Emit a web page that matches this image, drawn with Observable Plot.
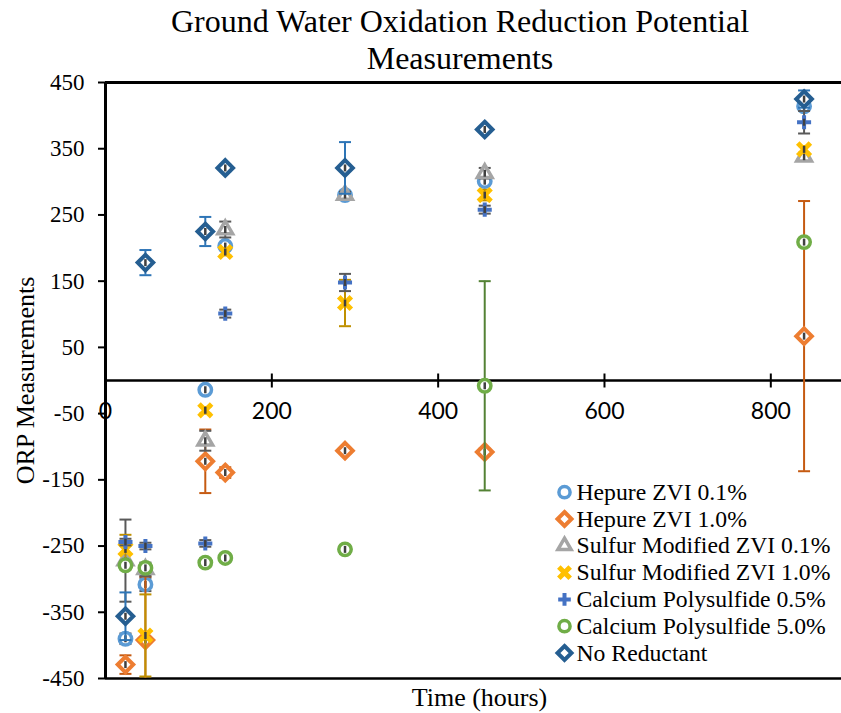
<!DOCTYPE html>
<html>
<head>
<meta charset="utf-8">
<script src="https://cdn.jsdelivr.net/npm/d3@7"></script>
<script src="https://cdn.jsdelivr.net/npm/@observablehq/plot@0.6"></script>
<style>
  html, body { margin: 0; padding: 0; background: #fff; }
  #wrap { position: relative; width: 841px; height: 713px; overflow: hidden; }
  #title { position: absolute; left: 460px; top: 3px; transform: translateX(-50%);
    font-family: "Liberation Serif", "Times New Roman", serif; font-size: 32px; line-height: 37px;
    text-align: center; white-space: nowrap; color: #000; }
  #chart { position: absolute; left: 0; top: 0; }
</style>
</head>
<body>
<div id="wrap">
  <div id="chart"></div>
  <div id="title">Ground Water Oxidation Reduction Potential<br>Measurements</div>
</div>
<script>
// ---- data ----
const times = [24, 48, 120, 144, 288, 456, 840];
const seriesNames = ["Hepure ZVI 0.1%", "Hepure ZVI 1.0%", "Sulfur Modified ZVI 0.1%", "Sulfur Modified ZVI 1.0%", "Calcium Polysulfide 0.5%", "Calcium Polysulfide 5.0%", "No Reductant"];
const hepure01 = [-390, -308, -14, 203, 280, 301, 414];
const hepure01Err = [8, 10, 5, 5, 5, 5, 5];
const hepure10 = [-429, -392, -122, -139, -106, -108, 67];
const hepure10Err = [14, 96, 48, 8, 5, 5, 204];
const sulfur01 = [-272, -285, -91, 228, 280, 313, 338];
const sulfur01Err = [62, 10, 15, 12, 5, 8, 5];
const sulfur10 = [-255, -385, -45, 194, 117, 280, 349];
const sulfur10Err = [22, 62, 5, 5, 35, 8, 5];
const caps05 = [-244, -250, -246, 101, 148, 258, 390];
const caps05Err = [5, 5, 5, 6, 13, 6, 17];
const caps50 = [-279, -283, -275, -268, -255, -8, 209];
const caps50Err = [6, 6, 6, 6, 6, 158, 6];
const noReductant = [-356, 178, 225, 321, 321, 379, 425];
const noReductantErr = [36, 19, 22, 5, 39, 4, 13];
const yTicks = [450, 350, 250, 150, 50, -50, -150, -250, -350, -450];
const xTicks = [0, 200, 400, 600, 800];

// ---- styling per series ----
const valuesList = [hepure01, hepure10, sulfur01, sulfur10, caps05, caps50, noReductant];
const errList = [hepure01Err, hepure10Err, sulfur01Err, sulfur10Err, caps05Err, caps50Err, noReductantErr];
const markerColors = ["#5b9bd5", "#ed7d31", "#a5a5a5", "#ffc000", "#4472c4", "#70ad47", "#255e91"];
const errColors = ["#595959", "#c55a11", "#595959", "#bf9000", "#595959", "#548235", "#2e75b6"];
const symbols = ["circle", "diamond2", "triangle2", "times", "plus", "circle", "diamond2"];
const radii = [6.2, 7, 7, 5.8, 4.6, 6.2, 7];
const strokeWidths = [3.5, 4, 3.5, 5, 4, 3.5, 4];
const fills = ["white", "white", "white", "none", "none", "white", "white"];

const hline = { draw(ctx, size) { const r = Math.sqrt(size / Math.PI); ctx.moveTo(-r, 0); ctx.lineTo(r, 0); } };
const vline = { draw(ctx, size) { const r = Math.sqrt(size / Math.PI); ctx.moveTo(0, -r); ctx.lineTo(0, r); } };

const marks = [];
// frame lines
marks.push(Plot.ruleY([450], { stroke: "#000", strokeWidth: 3 }));
marks.push(Plot.ruleY([-450], { stroke: "#000", strokeWidth: 2.5 }));
marks.push(Plot.ruleY([0], { stroke: "#000", strokeWidth: 2.5 }));
marks.push(Plot.ruleX([0], { stroke: "#000", strokeWidth: 3 }));
// y axis ticks & labels
marks.push(Plot.axisY({ ticks: yTicks, tickSize: 7, tickPadding: 14, tickFormat: d => String(d), label: null,
  fontSize: 23, fontFamily: "Liberation Serif", strokeWidth: 2, stroke: "#000" }));
// x ticks crossing zero line, labels below
marks.push(Plot.dot(xTicks.filter(d => d !== 0), { x: d => d, y: () => 0, symbol: vline, r: 7, stroke: "#000", strokeWidth: 2 }));
marks.push(Plot.text(xTicks, { x: d => d, y: () => 0, dy: 31, text: d => String(d), fontSize: 23, fontFamily: "Lato", fill: "#000", lineAnchor: "middle" }));

seriesNames.forEach((name, i) => {
  const rows = times.map((t, j) => ({ t, v: valuesList[i][j], e: errList[i][j] }));
  marks.push(Plot.ruleX(rows, { x: "t", y1: d => d.v - d.e, y2: d => d.v + d.e, stroke: errColors[i], strokeWidth: 2, clip: true }));
  marks.push(Plot.dot(rows, { x: "t", y: d => d.v + d.e, symbol: hline, r: 6, stroke: errColors[i], strokeWidth: 2, clip: true }));
  marks.push(Plot.dot(rows, { x: "t", y: d => d.v - d.e, symbol: hline, r: 6, stroke: errColors[i], strokeWidth: 2, clip: true }));
  marks.push(Plot.dot(rows, { x: "t", y: "v", symbol: symbols[i], r: radii[i], stroke: markerColors[i], fill: fills[i], strokeWidth: strokeWidths[i] }));
  marks.push(Plot.dot(rows, { x: "t", y: "v", symbol: vline, r: 3.5, stroke: "#404040", strokeWidth: 2.5 }));
  // legend entry
  marks.push(Plot.dot([name], { frameAnchor: "top-left", dx: 459, dy: 409.7 + i * 26.8, symbol: symbols[i], r: radii[i] * 0.9, stroke: markerColors[i], fill: fills[i], strokeWidth: strokeWidths[i] }));
  marks.push(Plot.text([name], { frameAnchor: "top-left", dx: 471, dy: 409.7 + i * 26.8, text: d => d, textAnchor: "start", lineAnchor: "middle", fontSize: 23.7, fontFamily: "Liberation Serif", fill: "#000" }));
});

// axis titles
marks.push(Plot.text(["ORP Measurements"], { frameAnchor: "left", dx: -80, rotate: -90, text: d => d, fontSize: 26, fontFamily: "Liberation Serif", fill: "#000", textAnchor: "middle", lineAnchor: "middle" }));
marks.push(Plot.text(["Time (hours)"], { frameAnchor: "bottom", dx: 6, dy: 19, text: d => d, fontSize: 26, fontFamily: "Liberation Serif", fill: "#000", textAnchor: "middle", lineAnchor: "middle" }));

const chart = Plot.plot({
  width: 841, height: 713,
  marginTop: 82, marginBottom: 35, marginLeft: 105, marginRight: 0,
  x: { domain: [0, 885], axis: null },
  y: { domain: [-450, 450] },
  style: { background: "white", overflow: "visible" },
  marks
});
document.getElementById("chart").appendChild(chart);
</script>
</body>
</html>
